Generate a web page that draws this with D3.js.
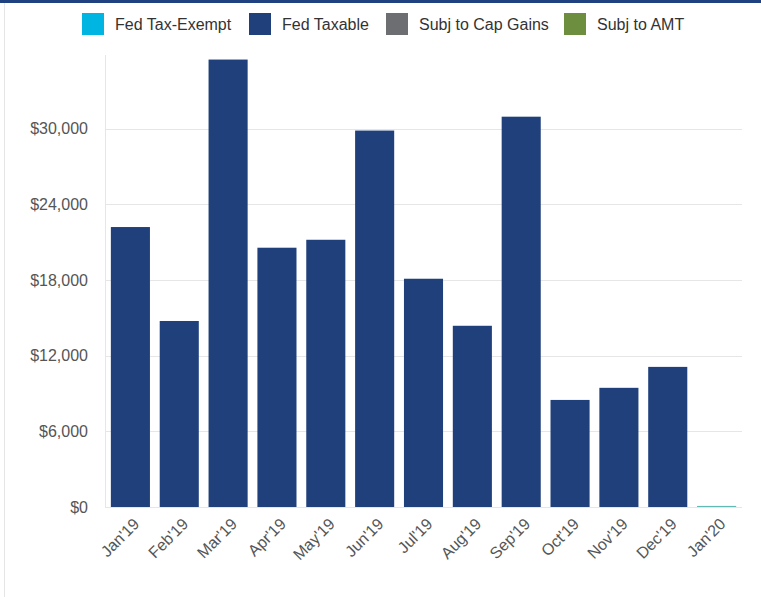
<!DOCTYPE html>
<html lang="en">
<head>
    <meta charset="UTF-8">
    <title>Monthly income by tax status</title>
    <script src="https://d3js.org/d3.v7.min.js"></script>
</head>

<style>
    body{
        margin: 0;
        background: white;
        font-family: "Liberation Sans", Arial, Helvetica, sans-serif;
    }
</style>
<body>

    <svg id="chart"></svg>

    <script>
    //Data
        const months = ["Jan'19", "Feb'19", "Mar'19", "Apr'19", "May'19", "Jun'19",
                        "Jul'19", "Aug'19", "Sep'19", "Oct'19", "Nov'19", "Dec'19", "Jan'20"];

        const fedTaxExempt = [0, 0, 0, 0, 0, 0, 0, 0, 0, 0, 0, 0, 40];
        const fedTaxable   = [22200, 14750, 35480, 20560, 21190, 29850,
                              18100, 14370, 30950, 8490, 9450, 11110, 0];
        const subjCapGains = [0, 0, 0, 0, 0, 0, 0, 0, 0, 0, 0, 0, 0];
        const subjAMT      = [0, 0, 0, 0, 0, 0, 0, 0, 0, 0, 0, 0, 45];

        const seriesNames = ["Fed Tax-Exempt", "Fed Taxable", "Subj to Cap Gains", "Subj to AMT"];
        const seriesColors = ["#00b5e2", "#1f407a", "#6d6e71", "#6e8e3f"];

        const yTicks = [0, 6000, 12000, 18000, 24000, 30000];
        const yMax = 36000;

    //Svg setup
        const width = 761;
        const height = 597;

        const svg = d3.select("#chart")
            .attr("width", width)
            .attr("height", height);

        const plot = {left: 105, right: 742, top: 53, bottom: 507};

    //Frame: blue top strip and light left border
        svg.append("rect")
            .attr("x", 0).attr("y", 0)
            .attr("width", width).attr("height", 3)
            .attr("fill", "#1f4180");

        svg.append("line")
            .attr("x1", 4.5).attr("x2", 4.5)
            .attr("y1", 3).attr("y2", height)
            .attr("stroke", "#e6e6e6");

    //Scales
        const x = d3.scaleBand()
            .domain(months)
            .range([plot.left, plot.right])
            .paddingInner(0.2)
            .paddingOuter(0.12);

        const y = d3.scaleLinear()
            .domain([0, yMax])
            .range([plot.bottom, plot.top]);

    //Grid lines
        svg.append("g")
            .selectAll("line")
            .data(yTicks.filter(d => d > 0))
            .join("line")
            .attr("x1", plot.left)
            .attr("x2", plot.right)
            .attr("y1", d => Math.round(y(d)) + 0.5)
            .attr("y2", d => Math.round(y(d)) + 0.5)
            .attr("stroke", "#e6e6e6");

    //Stacked bars (first series sits on top, like the source chart)
        const table = months.map((m, i) => ({
            month: m,
            "Subj to AMT": subjAMT[i],
            "Subj to Cap Gains": subjCapGains[i],
            "Fed Taxable": fedTaxable[i],
            "Fed Tax-Exempt": fedTaxExempt[i]
        }));

        const stackOrder = seriesNames.slice().reverse();
        const stacked = d3.stack().keys(stackOrder)(table);

        svg.append("g")
            .selectAll("g")
            .data(stacked)
            .join("g")
            .attr("fill", d => seriesColors[seriesNames.indexOf(d.key)])
            .selectAll("rect")
            .data(d => d)
            .join("rect")
            .attr("x", d => x(d.data.month))
            .attr("width", x.bandwidth())
            .attr("y", d => y(d[1]))
            .attr("height", d => y(d[0]) - y(d[1]));

    //Axis lines
        svg.append("line")
            .attr("x1", plot.left + 0.5).attr("x2", plot.left + 0.5)
            .attr("y1", plot.top + 2).attr("y2", plot.bottom)
            .attr("stroke", "#e6e6e6");

        svg.append("line")
            .attr("x1", plot.left).attr("x2", plot.right)
            .attr("y1", plot.bottom + 0.5).attr("y2", plot.bottom + 0.5)
            .attr("stroke", "#e6e6e6");

    //Y axis labels
        const yAxis = d3.axisLeft(y)
            .tickValues(yTicks)
            .tickSize(0)
            .tickPadding(17)
            .tickFormat(d => "$" + d3.format(",")(d));

        const yAxisG = svg.append("g")
            .attr("transform", `translate(${plot.left},0)`)
            .call(yAxis);

        yAxisG.select(".domain").remove();
        yAxisG.selectAll("text")
            .attr("fill", "#555")
            .style("font-size", "16px")
            .style("font-family", "'Liberation Sans', Arial, sans-serif");

    //X axis labels, rotated
        svg.append("g")
            .selectAll("text")
            .data(months)
            .join("text")
            .attr("transform", d => `translate(${x(d) + x.bandwidth() / 2 + 10},${plot.bottom + 18}) rotate(-45)`)
            .attr("text-anchor", "end")
            .attr("fill", "#555")
            .style("font-size", "16px")
            .text(d => d);

    //Legend
        const legendX = [82, 249, 386, 564];

        const legend = svg.append("g")
            .selectAll("g")
            .data(seriesNames)
            .join("g")
            .attr("transform", (d, i) => `translate(${legendX[i]},13)`);

        legend.append("rect")
            .attr("width", 22)
            .attr("height", 22)
            .attr("fill", (d, i) => seriesColors[i]);

        legend.append("text")
            .attr("x", 33)
            .attr("y", 17)
            .attr("fill", "#333")
            .style("font-size", "16px")
            .text(d => d);
    </script>
</body>
</html>
